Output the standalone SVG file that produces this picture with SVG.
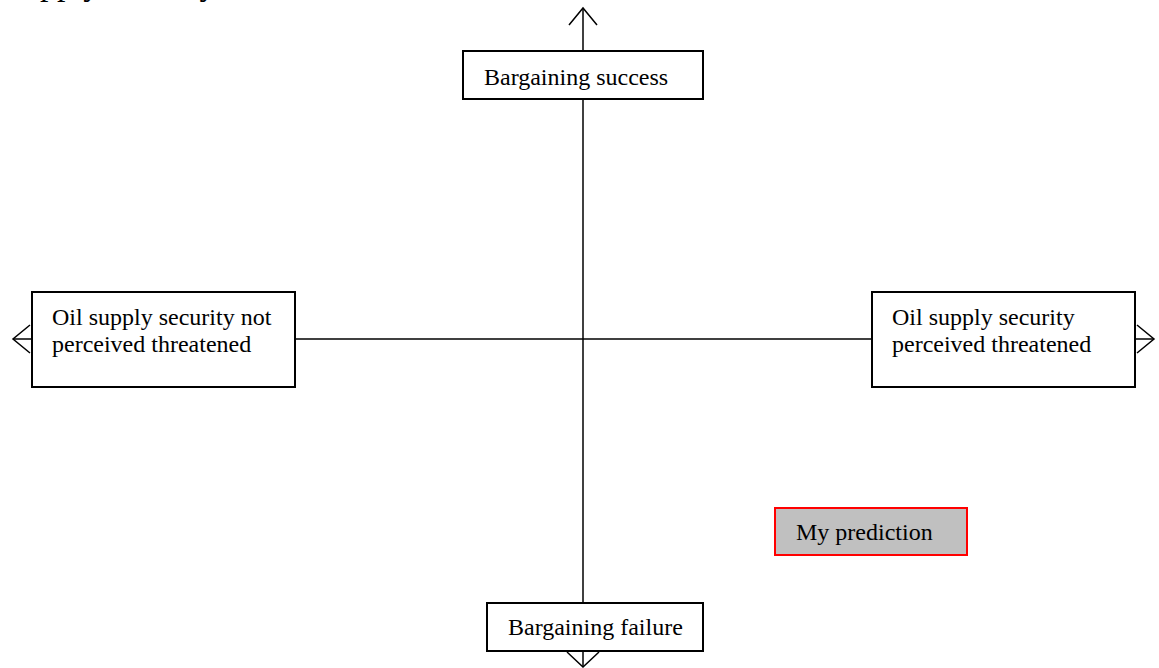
<svg xmlns="http://www.w3.org/2000/svg" width="1159" height="668" viewBox="0 0 1159 668">
<style>
.box{fill:#fff;stroke:#000;stroke-width:2}
.pred{fill:#c0c0c0;stroke:#ff0000;stroke-width:2}
.t{font-family:"Liberation Serif","Times New Roman",serif;font-size:24px;fill:#000}
.ln{stroke:#000;stroke-width:1.5;fill:none}
</style>
<rect width="1159" height="668" fill="#fff"/>
<text class="t" x="4" y="-5" style="font-size:34px">Supply security</text>
<g id="connectors">
<line class="ln" x1="583" y1="8" x2="583" y2="667"/>
<line class="ln" x1="13" y1="339" x2="1154" y2="339"/>
<polyline class="ln" points="569,25 583,8 597,25"/>
<polyline class="ln" points="567,652 583,667 599,652"/>
<polyline class="ln" points="30,325 13,339 30,353"/>
<polyline class="ln" points="1137,325 1154,339 1137,353"/>
</g>
<g id="success">
<rect class="box" x="463" y="51" width="240" height="48"/>
<text class="t" x="484" y="85">Bargaining success</text>
</g>
<g id="failure">
<rect class="box" x="487" y="603" width="216" height="48"/>
<text class="t" x="508" y="635">Bargaining failure</text>
</g>
<g id="notthreatened">
<rect class="box" x="32" y="292" width="263" height="95"/>
<text class="t" x="52" y="325">Oil supply security not</text>
<text class="t" x="52" y="352">perceived threatened</text>
</g>
<g id="threatened">
<rect class="box" x="872" y="292" width="263" height="95"/>
<text class="t" x="892" y="325">Oil supply security</text>
<text class="t" x="892" y="352">perceived threatened</text>
</g>
<g id="prediction">
<rect class="pred" x="775" y="508" width="192" height="47"/>
<text class="t" x="796" y="540">My prediction</text>
</g>
</svg>
